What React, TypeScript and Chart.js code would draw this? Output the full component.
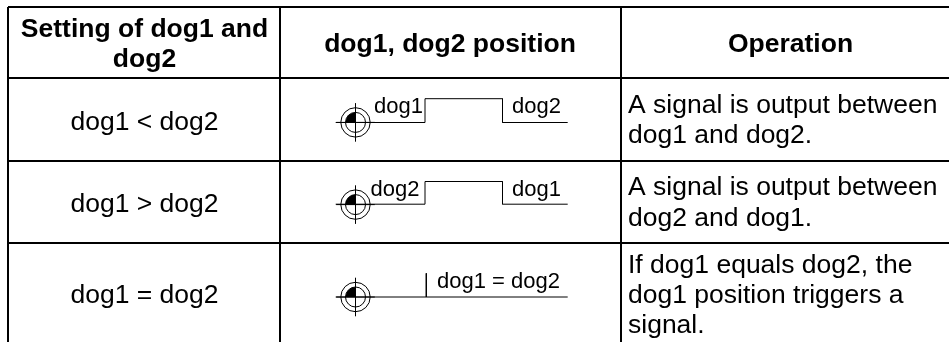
import React, { useEffect, useRef } from "react";
import { Chart, registerables } from "chart.js";

Chart.register(...registerables);

const WIDTH = 949;
const HEIGHT = 342;
const FONT = '"Liberation Sans", Arial, sans-serif';

// Table rules
const columnEdges = [8, 280, 621];
const rowEdges = [7, 77.7, 161, 242.7];

// Position diagram series
const stepX = [335.7, 425, 425, 502.5, 502.5, 567.7];
const stepRow1Y = [122.5, 122.5, 98.7, 98.7, 122.5, 122.5];
const stepRow2Y = [204.2, 204.2, 181.5, 181.5, 204.2, 204.2];
const flatX = [335.7, 567.7];
const flatY = [297, 297];
const markerX = [426.3, 426.3];
const markerY = [273.3, 297];
const originX = [355.5, 355.5, 355.5];
const originY = [122.4, 204.6, 297];

// Text
const headerLabels = ["Setting of dog1 and", "dog2", "dog1, dog2 position", "Operation"];
const headerX = [144.5, 144.5, 450, 790.5];
const headerY = [36.7, 66.7, 52, 52];
const settingLabels = ["dog1 < dog2", "dog1 > dog2", "dog1 = dog2"];
const settingX = [144.5, 144.5, 144.5];
const settingY = [129.5, 212, 303];
const operationLabels = [
  "A signal is output between",
  "dog1 and dog2.",
  "A signal is output between",
  "dog2 and dog1.",
  "If dog1 equals dog2, the",
  "dog1 position triggers a",
  "signal.",
];
const operationY = [112.7, 143, 195, 226, 272.7, 302.7, 332.7];
const operationX = 628;
const diagramLabels = ["dog1", "dog2", "dog2", "dog1", "dog1 = dog2"];
const diagramX = [374, 512, 370.5, 512, 437];
const diagramY = [113, 113, 196, 196, 288.3];

const lineDataset = (xs: number[], ys: number[]) => ({
  type: "scatter" as const,
  data: xs.map((x, i) => ({ x, y: ys[i] })),
  showLine: true,
  borderColor: "#000",
  borderWidth: 1,
  pointRadius: 0,
  clip: false as const,
});

const originPoints = originX.map((x, i) => ({ x, y: originY[i] }));

const ringDataset = (radius: number) => ({
  type: "scatter" as const,
  data: originPoints,
  pointStyle: "circle",
  pointRadius: radius,
  pointBorderColor: "#000",
  pointBorderWidth: 1,
  pointBackgroundColor: "rgba(0,0,0,0)",
  clip: false as const,
});

const tablePlugin = {
  id: "tableText",
  afterDatasetsDraw(chart: any) {
    const { ctx, scales } = chart;
    const xs = scales.x;
    const ys = scales.y;
    ctx.save();
    // filled quadrant of each origin symbol
    ctx.fillStyle = "#000";
    originPoints.forEach((p) => {
      const cx = xs.getPixelForValue(p.x);
      const cy = ys.getPixelForValue(p.y);
      ctx.beginPath();
      ctx.moveTo(cx, cy);
      ctx.arc(cx, cy, 10, Math.PI, Math.PI * 1.5);
      ctx.closePath();
      ctx.fill();
    });
    ctx.fillStyle = "#000";
    ctx.textBaseline = "alphabetic";
    const put = (t: string, x: number, y: number) =>
      ctx.fillText(t, xs.getPixelForValue(x), ys.getPixelForValue(y));
    ctx.font = `bold 26.5px ${FONT}`;
    ctx.textAlign = "center";
    headerLabels.forEach((t, i) => put(t, headerX[i], headerY[i]));
    ctx.font = `26.5px ${FONT}`;
    settingLabels.forEach((t, i) => put(t, settingX[i], settingY[i]));
    ctx.textAlign = "left";
    operationLabels.forEach((t, i) => put(t, operationX, operationY[i]));
    ctx.font = `22px ${FONT}`;
    diagramLabels.forEach((t, i) => put(t, diagramX[i], diagramY[i]));
    ctx.restore();
  },
};

export default function App() {
  const ref = useRef<HTMLCanvasElement>(null);
  useEffect(() => {
    const chart = new Chart(ref.current as HTMLCanvasElement, {
      type: "scatter",
      data: {
        datasets: [
          lineDataset(stepX, stepRow1Y),
          lineDataset(stepX, stepRow2Y),
          lineDataset(flatX, flatY),
          lineDataset(markerX, markerY),
          ringDataset(14.7),
          ringDataset(10),
          {
            type: "scatter",
            data: originPoints,
            pointStyle: "cross",
            pointRadius: 19.3,
            pointBorderColor: "#000",
            pointBorderWidth: 1,
            clip: false,
          },
        ],
      } as any,
      options: {
        responsive: false,
        animation: false,
        layout: { autoPadding: false, padding: { left: 8, top: 7, right: 0, bottom: 0 } },
        plugins: { legend: { display: false }, tooltip: { enabled: false } },
        scales: {
          x: {
            type: "linear",
            min: 8,
            max: WIDTH,
            border: { display: false },
            ticks: { display: false },
            grid: { color: "#000", lineWidth: 2, drawTicks: false },
            afterBuildTicks: (s: any) => {
              s.ticks = columnEdges.map((value) => ({ value }));
            },
          },
          y: {
            type: "linear",
            reverse: true,
            min: 7,
            max: HEIGHT,
            border: { display: false },
            ticks: { display: false },
            grid: { color: "#000", lineWidth: 2, drawTicks: false },
            afterBuildTicks: (s: any) => {
              s.ticks = rowEdges.map((value) => ({ value }));
            },
          },
        },
      },
      plugins: [tablePlugin],
    } as any);
    return () => chart.destroy();
  }, []);
  return (
    <div style={{ position: "fixed", left: 0, top: 0, width: WIDTH, height: HEIGHT, background: "#fff" }}>
      <canvas ref={ref} width={WIDTH} height={HEIGHT} style={{ display: "block" }} />
    </div>
  );
}
